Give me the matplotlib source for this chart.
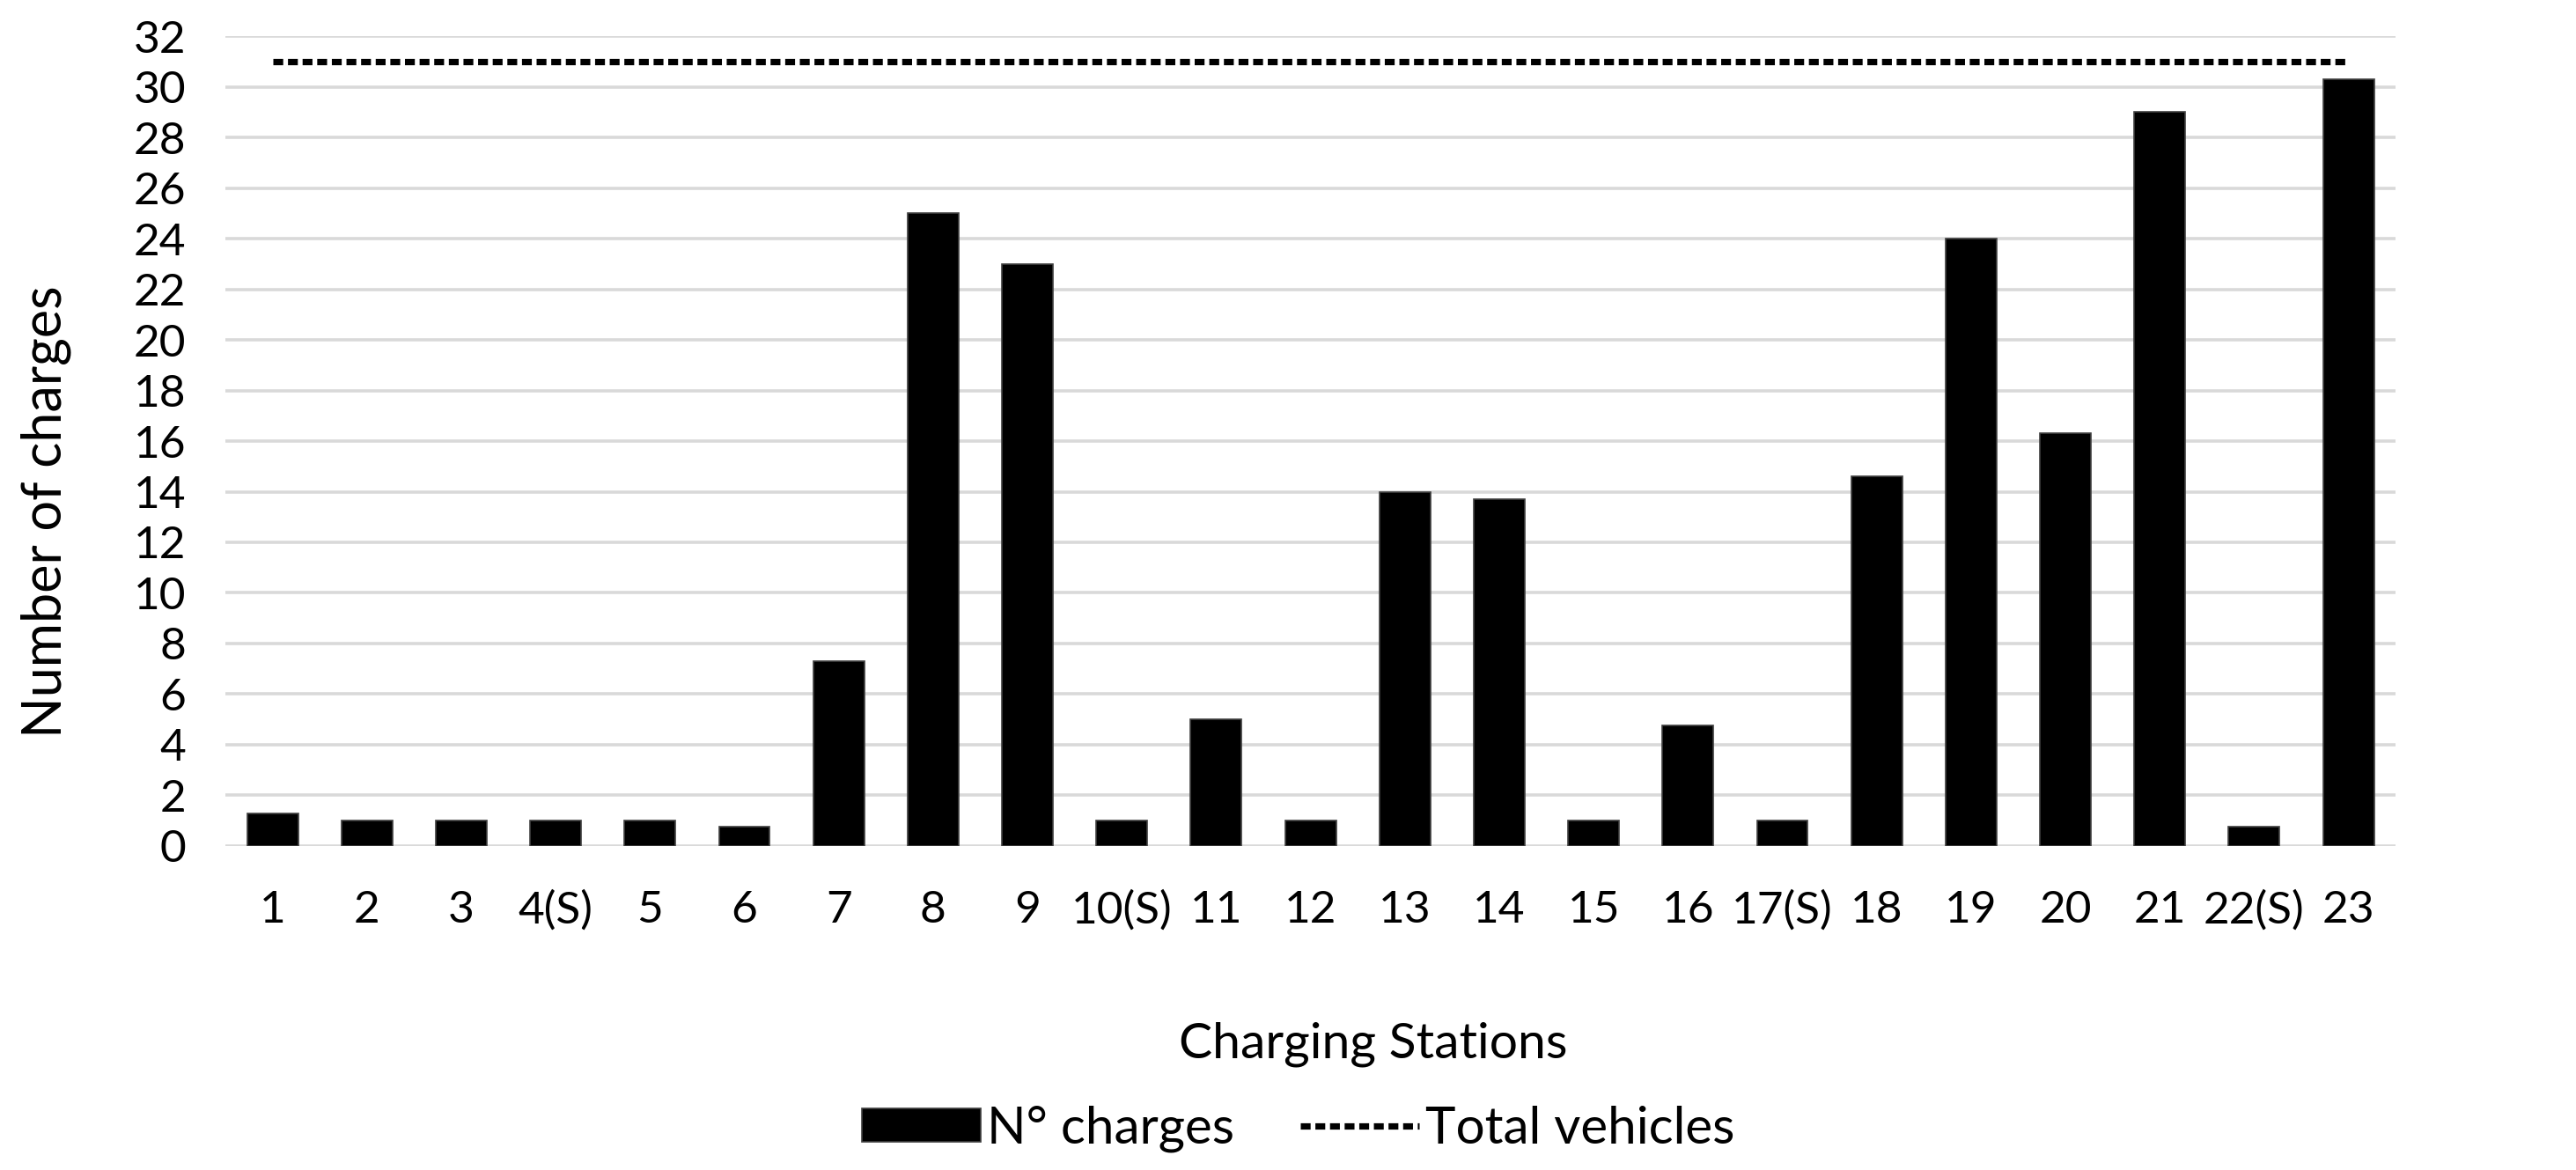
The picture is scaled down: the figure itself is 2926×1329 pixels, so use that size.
import matplotlib
matplotlib.use("Agg")
import matplotlib.pyplot as plt
from matplotlib import font_manager

stations = ["1", "2", "3", "4(S)", "5", "6", "7", "8", "9", "10(S)", "11", "12",
            "13", "14", "15", "16", "17(S)", "18", "19", "20", "21", "22(S)", "23"]
n_charges = [1.3, 1, 1, 1, 1, 0.75, 7.3, 25, 23, 1, 5, 1,
             14, 13.7, 1, 4.75, 1, 14.6, 24, 16.3, 29, 0.75, 30.3]
total_vehicles = [31, 31, 31, 31, 31, 31, 31, 31, 31, 31, 31, 31,
                  31, 31, 31, 31, 31, 31, 31, 31, 31, 31, 31]
y_ticks = [0, 2, 4, 6, 8, 10, 12, 14, 16, 18, 20, 22, 24, 26, 28, 30, 32]

names = {f.name for f in font_manager.fontManager.ttflist}
fam = "Lato" if "Lato" in names else "DejaVu Sans"
plt.rcParams["font.family"] = [fam, "DejaVu Sans"]

DPI = 200
fig = plt.figure(figsize=(2926 / DPI, 1329 / DPI), dpi=DPI)
ax = fig.add_axes([0.0875, 0.277, 0.8425, 0.692])

x = list(range(len(stations)))
bars = ax.bar(x, n_charges, width=0.54, color="black", edgecolor="#404040",
              linewidth=0.6, label="N° charges", zorder=3)
line, = ax.plot(x, total_vehicles, color="black", linewidth=2.6,
                linestyle=(0, (1.55, 0.75)), dash_capstyle="butt",
                label="Total vehicles", zorder=4)

ax.set_xlim(-0.5, len(stations) - 0.5)
ax.set_ylim(0, 32)
ax.set_yticks(y_ticks)
ax.set_xticks(x)
ax.set_xticklabels(stations)
ax.tick_params(axis="both", length=0, labelsize=18.5, colors="black")
ax.tick_params(axis="x", pad=18)
ax.tick_params(axis="y", pad=16)
ax.yaxis.grid(True, color="#d9d9d9", linewidth=1.3, zorder=0)
ax.set_axisbelow(True)
for s in ax.spines.values():
    s.set_visible(False)

ax.set_ylabel("Number of charges", fontsize=22)
ax.yaxis.set_label_coords(-0.071, 0.413)
ax.set_xlabel("Charging Stations", fontsize=20.5)
ax.xaxis.set_label_coords(0.529, -0.2176)

leg = fig.legend([bars, line], ["N° charges", "Total vehicles"],
                 loc="center", bbox_to_anchor=(0.504, 0.035), ncol=2, frameon=False,
                 fontsize=21, handlelength=2.3, handleheight=0.62, handletextpad=0.12,
                 columnspacing=1.3)

fig.savefig("out.png", dpi=DPI)
